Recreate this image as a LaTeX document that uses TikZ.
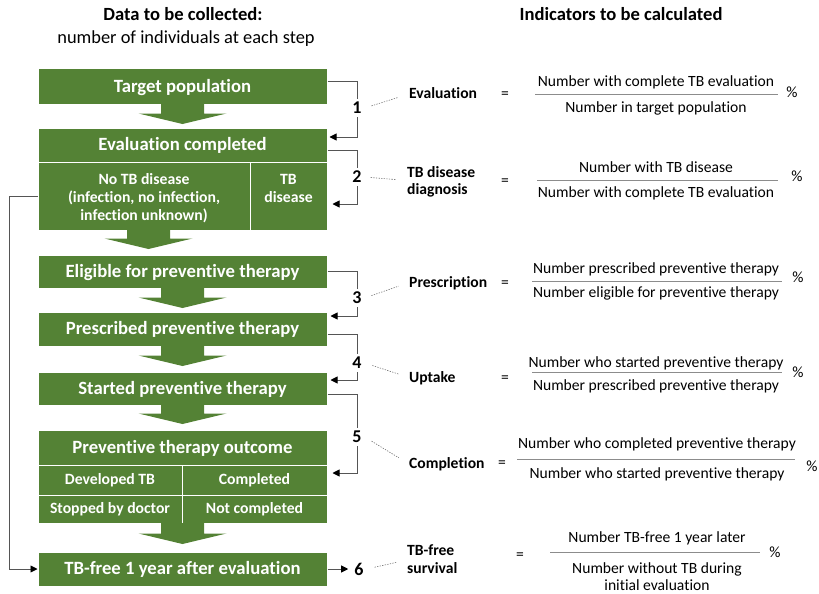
\documentclass[tikz,border=0pt]{standalone}
\usepackage{fontspec}
\setmainfont{Carlito}[Ligatures=NoCommon]
\usetikzlibrary{arrows.meta}
\definecolor{tbgreen}{RGB}{84,130,53}
\definecolor{conncol}{RGB}{85,85,85}
\newcommand\blkarrow[3]{%
  \fill[tbgreen] ({#1-21.5},{#2}) -- ({#1+21.5},{#2}) -- ({#1+21.5},{#3-10.5})
   -- ({#1+44},{#3-10.5}) -- ({#1},{#3}) -- ({#1-44},{#3-10.5})
   -- ({#1-21.5},{#3-10.5}) -- cycle;}
\begin{document}
\begin{tikzpicture}[x=1pt,y=-1pt,
  box/.style={text height=11.8pt, text depth=0pt, inner sep=0pt,
    fill=tbgreen, draw=white, line width=1pt, text=white,
    font=\fontsize{18.7}{21}\selectfont\bfseries, minimum width=289pt, align=center},
  cell/.style={box, text height=9.9pt, font=\fontsize{15.7}{18}\selectfont\bfseries},
  mcell/.style={fill=tbgreen, draw=white, line width=1pt, text=white, inner sep=0pt,
    font=\fontsize{15.7}{18}\selectfont\bfseries, align=center},
  conn/.style={draw=conncol, line width=0.9pt},
  connarrow/.style={conn, -{Triangle[length=7pt,width=7pt,color=black]}},
  numl/.style={font=\fontsize{18}{21}\selectfont\bfseries, inner sep=3pt},
  indl/.style={text height=9.8pt, text depth=0pt, inner sep=0pt,
    font=\fontsize{15.6}{18}\selectfont\bfseries, anchor=west},
  txt/.style={text height=9.8pt, text depth=0pt, inner sep=0pt,
    font=\fontsize{15.6}{18}\selectfont},
  fracl/.style={draw=black!45, line width=0.8pt},
  dotl/.style={draw=black!55, line width=0.6pt, dash pattern=on 1.3pt off 1.3pt},
  head/.style={text height=11.7pt, text depth=0pt, inner sep=0pt,
    font=\fontsize{18.6}{21}\selectfont\bfseries},
  subhead/.style={text height=11.6pt, text depth=0pt, inner sep=0pt,
    font=\fontsize{18.4}{21}\selectfont},
]
\useasboundingbox (0,0) rectangle (819,594);
% headers
\node[head] (h1) at (183,15) {Data to be collected:};
\node[subhead] (h2) at (186,38) {number of individuals at each step};
\node[head] (h3) at (621,15) {Indicators to be calculated};
% boxes
\node[box, minimum height=35pt] (b1) at (182.5,86.5) {Target population};
\node[box, minimum height=34pt] (b2) at (182.5,145) {Evaluation completed};
\node[mcell, minimum width=212pt, minimum height=68pt] (notb) at (144,196) {\rule{0pt}{15pt}No TB disease\\(infection, no infection,\\infection unknown)};
\node[mcell, minimum width=77pt, minimum height=68pt] (tbd) at (288.5,196) {\rule{0pt}{15pt}TB\\disease\\\phantom{(}};
\node[box, minimum height=33pt] (b3) at (182.5,271.5) {Eligible for preventive therapy};
\node[box, minimum height=34pt] (b4) at (182.5,329) {Prescribed preventive therapy};
\node[box, minimum height=33pt] (b5) at (182.5,388.5) {Started preventive therapy};
\node[box, minimum height=35pt] (b6) at (182.5,447.5) {Preventive therapy outcome};
\node[cell, minimum width=144pt, minimum height=30pt] (dev) at (110,480) {Developed TB};
\node[cell, minimum width=145pt, minimum height=30pt] (comp) at (254.5,480) {Completed};
\node[cell, minimum width=144pt, minimum height=28pt] (stop) at (110,509) {Stopped by doctor};
\node[cell, minimum width=145pt, minimum height=28pt] (notc) at (254.5,509) {Not completed};
\node[box, minimum height=34pt] (b7) at (182.5,569) {TB-free 1 year after evaluation};
% block arrows
\blkarrow{182.5}{104}{124}
\blkarrow{148.5}{230}{249}
\blkarrow{182.5}{288}{308}
\blkarrow{182.5}{346}{366}
\blkarrow{182.5}{405}{424}
\blkarrow{182.5}{523}{544}
% number labels
\node[numl] (n1) at (357,108) {1};
\node[numl] (n2) at (357,177) {2};
\node[numl] (n3) at (357,298) {3};
\node[numl] (n4) at (357,363) {4};
\node[numl] (n5) at (357,437) {5};
\node[numl] (n6) at (359,569) {6};
% brackets
\draw[conn] ([yshift=5.5pt]b1.east) -| (n1);
\draw[connarrow] (n1) |- ([yshift=8pt,xshift=2pt]b2.east);
\draw[conn] ([yshift=-5pt]b2.east) -| (n2);
\draw[connarrow] (n2) |- ([yshift=-8pt,xshift=5pt]tbd.east);
\draw[conn] (b3.east) -| (n3);
\draw[connarrow] (n3) |- ([yshift=13pt,xshift=3pt]b4.east);
\draw[conn] ([yshift=-5pt]b4.east) -| (n4);
\draw[connarrow] (n4) |- ([yshift=8.5pt,xshift=3pt]b5.east);
\draw[conn] ([yshift=-5.5pt]b5.east) -| (n5);
\draw[connarrow] (n5) |- ([yshift=7pt,xshift=5pt]comp.east);
\draw[connarrow, shorten >=3pt] (b7.east) -- (n6);
\draw[connarrow] (notb.west) -- ++(-28,0) |- (b7.west);
% indicator 1
\node[indl] (i1) at (409,94) {Evaluation};
\node[txt] (e1) at (505,94) {=};
\node[txt] (u1) at (656,82) {Number with complete TB evaluation};
\node[txt] (d1) at (656,107.5) {Number in target population};
\node[txt] (p1) at (792,93) {\%};
\draw[fracl] (535,94) -- (778,94);
% indicator 2
\node[indl] (i2a) at (407,172.5) {TB disease};
\node[indl] (i2b) at (407,190) {diagnosis};
\node[txt] (e2) at (505,181) {=};
\node[txt] (u2) at (656,167.5) {Number with TB disease};
\node[txt] (d2) at (656,192.5) {Number with complete TB evaluation};
\node[txt] (p2) at (797,177) {\%};
\draw[fracl] (537,180) -- (778,180);
% indicator 3
\node[indl] (i3) at (409,282.5) {Prescription};
\node[txt] (e3) at (505,283) {=};
\node[txt] (u3) at (656,268.5) {Number prescribed preventive therapy};
\node[txt] (d3) at (656,292.5) {Number eligible for preventive therapy};
\node[txt] (p3) at (798,278) {\%};
\draw[fracl] (532,281) -- (782,281);
% indicator 4
\node[indl] (i4) at (409,377.5) {Uptake};
\node[txt] (e4) at (505,378) {=};
\node[txt] (u4) at (656,362.5) {Number who started preventive therapy};
\node[txt] (d4) at (656,385.5) {Number prescribed preventive therapy};
\node[txt] (p4) at (798,373) {\%};
\draw[fracl] (532,372) -- (782,372);
% indicator 5
\node[indl] (i5) at (409,464) {Completion};
\node[txt] (e5) at (502,463) {=};
\node[txt] (u5) at (657,444) {Number who completed preventive therapy};
\node[txt] (d5) at (657,474) {Number who started preventive therapy};
\node[txt] (p5) at (812,467) {\%};
\draw[fracl] (517,459) -- (795,459);
% indicator 6
\node[indl] (i6a) at (407,551) {TB-free};
\node[indl] (i6b) at (407,569) {survival};
\node[txt] (e6) at (520,555) {=};
\node[txt] (u6) at (657,537.5) {Number TB-free 1 year later};
\node[txt] (d6a) at (657,568.5) {Number without TB during};
\node[txt] (d6b) at (657,586) {initial evaluation};
\node[txt] (p6) at (775,553) {\%};
\draw[fracl] (550,552) -- (760,552);
% dotted leaders
\draw[dotl, shorten <=7pt, shorten >=11pt] (n1.east) -- (i1.west);
\draw[dotl, shorten <=6pt, shorten >=11pt] (n2.east) -- ([yshift=-8pt]i2a.west);
\draw[dotl, shorten <=7pt, shorten >=11pt] (n3.east) -- (i3.west);
\draw[dotl, shorten <=8pt, shorten >=11pt] (n4.east) -- (i4.west);
\draw[dotl, shorten <=8pt, shorten >=12pt] (n5.east) -- (i5.west);
\draw[dotl, shorten <=8pt, shorten >=10pt] (n6.east) -- ([yshift=-9pt]i6a.west);
\end{tikzpicture}
\end{document}
